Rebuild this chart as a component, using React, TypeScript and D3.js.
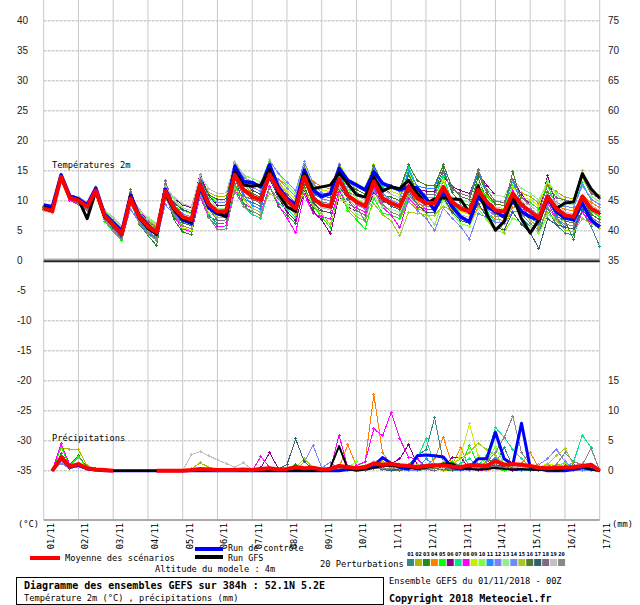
import React from 'react';
import * as d3 from 'd3';

// ---------- categories / ticks ----------
const DATES = ['01/11','02/11','03/11','04/11','05/11','06/11','07/11','08/11','09/11','10/11','11/11','12/11','13/11','14/11','15/11','16/11','17/11'];
const LEFT_TICKS = [40,35,30,25,20,15,10,5,0,-5,-10,-15,-20,-25,-30,-35];
const RIGHT_TICKS = [40,35,30,25,20,15,10,5,0,-20,-25,-30,-35];
const MEMBER_IDS = ['01','02','03','04','05','06','07','08','09','10','11','12','13','14','15','16','17','18','19','20'];
const MEMBER_COLORS = ['#2e8b8b','#b5b500','#1e8c1e','#ff8000','#00ff00','#8b008b','#00e88a','#ff00ff','#c0f000','#80ff40','#1e90ff','#8080ff','#90ee90','#6a8cff','#a8c820','#4f7a2f','#2f6070','#806a80','#c0c0c0','#888888'];

// ---------- temperature 2m (°C), 6-hourly t0..t64 ----------
const T_MEAN = [8.7,8.3,14.0,10.5, 10.0,9.0,11.7,7.5, 6.0,4.5,10.4,7.3, 5.7,4.7,11.6,8.8, 7.3,6.8,12.7,9.4, 8.2,8.3,14.3,11.8, 10.7,10.1,14.4,11.8, 10.1,8.7,14.0,10.4, 9.3,9.0,13.6,10.9, 9.8,9.1,13.2,10.4, 9.6,9.0,12.3,10.4, 9.6,9.6,12.3,9.8, 8.7,8.2,11.8,9.8, 8.4,8.2,11.2,9.3, 8.2,7.1,10.7,8.7, 7.6,7.3,10.7,8.7, 7.9];
const T_CTRL = [9.3,9.0,14.3,10.8, 10.3,9.3,12.1,7.7, 6.3,4.9,10.9,7.5, 5.9,4.5,11.9,8.6, 6.8,6.2,12.3,8.8, 7.8,7.5,15.7,13.2, 13.0,12.3,16.0,12.3, 10.4,9.3,15.1,11.8, 10.7,11.2,15.4,13.4, 12.6,11.8,14.8,12.9, 12.3,11.8,12.3,12.1, 10.4,8.4,11.5,9.0, 7.3,6.5,10.7,9.0, 8.2,7.3,10.1,8.2, 7.3,6.8,10.7,8.2, 7.1,6.8,9.6,6.8, 5.6];
const T_GFS = [8.9,8.5,14.0,10.4, 10.2,7.0,11.6,7.3, 6.0,4.4,10.6,7.1, 5.4,4.4,11.2,8.5, 7.0,6.5,12.8,9.6, 8.0,7.3,14.8,12.6, 12.4,12.6,15.2,11.2, 9.0,8.2,14.5,12.0, 12.3,12.6,14.6,12.9, 11.0,10.6,13.9,11.6, 12.3,12.0,13.4,11.2, 9.5,10.3,10.5,10.3, 10.2,8.0,12.5,7.8, 5.1,6.5,10.8,7.0, 4.6,6.8,10.3,8.7, 9.6,9.8,14.5,12.0, 10.4];
const T_P01 = [9.0,8.6,14.3,10.8, 10.2,9.2,11.9,7.4, 5.5,4.0,10.4,6.6, 4.7,3.7,11.1,7.6, 5.8,5.3,11.7,7.7, 6.2,6.3,12.8,10.3, 9.7,9.1,13.9,11.6, 10.6,9.2,15.0,11.2, 10.3,10.0,15.1,12.4, 11.8,11.1,15.7,12.2, 11.1,10.5,14.3,11.4, 10.1,10.1,13.3,9.6, 7.7,7.2,11.3,8.3, 6.4,6.2,9.7,7.1, 5.7,4.6,8.7,6.0, 4.6,4.3,8.2,5.7, 2.4];
const T_P02 = [8.5,8.1,13.8,10.7, 10.5,9.5,12.2,8.2, 6.8,5.3,10.7,8.2, 6.7,5.7,12.1,10.1, 8.8,8.3,13.7,11.4, 10.7,10.8,16.3,14.1, 12.7,12.1,15.9,13.3, 11.1,9.7,14.5,10.9, 9.3,9.0,13.1,10.4, 8.8,8.1,11.7,8.9, 7.6,7.0,9.8,8.7, 8.1,8.1,10.3,9.3, 9.2,8.7,11.8,10.8, 9.9,9.7,12.2,11.3, 10.7,9.6,12.7,11.5, 10.6,10.3,15.0,11.7, 10.9];
const T_P03 = [8.7,8.3,14.0,10.3, 9.5,8.5,11.2,6.8, 5.0,3.5,10.4,6.1, 4.2,2.5,11.1,6.8, 4.8,4.3,11.2,7.4, 6.7,6.8,13.8,9.6, 7.7,7.1,12.4,9.1, 7.6,6.2,12.5,8.7, 8.3,8.0,13.6,10.4, 9.8,9.1,14.2,10.9, 10.6,10.0,14.3,11.9, 11.6,11.6,15.3,11.3, 9.7,9.2,13.8,10.1, 7.9,7.7,11.7,8.3, 6.7,5.6,10.2,7.5, 6.6,3.5,10.7,7.7, 6.9];
const T_P04 = [9.1,8.7,14.4,11.0, 10.6,9.6,12.3,8.3, 7.0,5.5,10.6,8.1, 6.2,5.2,11.3,9.1, 7.3,6.8,11.9,8.9, 7.2,7.3,12.5,11.8, 11.7,11.1,14.6,13.6, 12.6,11.2,15.7,13.2, 12.3,12.0,15.8,13.4, 11.8,11.1,14.4,11.4, 9.6,9.0,11.5,9.9, 8.6,8.6,10.5,8.3, 6.7,6.2,9.0,8.1, 6.9,6.7,8.9,8.6, 8.2,7.1,9.9,9.2, 8.6,8.3,10.9,9.7, 8.9];
const T_P05 = [8.4,8.0,13.7,10.1, 9.4,8.4,11.1,6.6, 4.8,3.3,9.5,6.5, 5.2,4.2,11.4,9.1, 8.3,7.8,14.0,10.7, 9.7,9.8,16.1,12.8, 11.2,10.6,15.2,11.8, 9.6,8.2,13.8,9.2, 7.3,5.5,11.9,8.4, 6.8,5.3,10.5,7.9, 7.6,7.0,10.6,8.9, 8.6,8.6,11.6,9.6, 9.2,8.7,12.6,10.6, 9.4,9.2,12.5,10.6, 9.7,8.6,12.5,9.2, 7.1,6.8,10.5,8.2, 7.4];
const T_P06 = [8.8,8.4,14.1,10.7, 10.3,9.3,12.0,7.9, 6.5,5.0,10.6,8.2, 6.9,5.9,12.5,10.4, 9.3,8.8,14.4,10.9, 9.2,9.3,15.0,12.1, 10.2,9.6,13.6,10.6, 8.1,6.7,11.7,8.2, 6.8,4.5,10.8,8.9, 8.3,7.6,11.4,9.9, 10.1,9.5,12.5,11.7, 11.6,11.6,14.0,12.3, 11.7,11.2,14.5,12.6, 10.9,10.7,13.4,11.1, 9.2,8.1,14.2,9.2, 7.6,7.3,10.4,8.7, 7.9];
const T_P07 = [8.3,7.9,13.6,10.2, 9.7,8.7,11.4,7.5, 6.2,4.7,11.4,7.8, 6.5,5.5,13.2,9.0, 6.8,6.3,13.0,7.9, 5.7,5.8,12.6,9.1, 7.7,7.1,12.2,9.6, 8.6,7.2,13.3,9.9, 9.8,9.5,14.9,11.9, 11.3,10.6,15.5,12.4, 12.1,11.5,15.6,12.2, 10.6,10.6,14.1,9.8, 7.7,7.2,11.6,8.3, 6.4,6.2,10.0,7.8, 7.2,6.1,10.5,9.0, 9.1,8.8,13.0,10.2, 9.4];
const T_P08 = [8.5,8.1,13.8,10.1, 9.3,8.3,11.0,6.8, 5.2,3.7,9.6,6.5, 4.9,3.9,10.8,7.4, 5.3,4.8,10.7,7.2, 5.7,5.8,11.8,9.6, 8.7,8.1,12.4,9.3, 7.1,4.7,11.0,7.9, 7.3,7.0,11.6,9.4, 8.8,8.1,12.2,8.9, 7.6,5.5,10.3,8.9, 8.6,8.6,11.3,9.3, 8.7,8.2,11.8,10.1, 8.9,8.7,11.7,9.1, 7.2,6.1,9.7,7.0, 5.1,4.8,8.2,6.2, 5.4];
const T_P09 = [8.7,8.3,14.0,10.7, 10.4,9.4,12.1,8.0, 6.6,5.1,11.6,7.5, 5.4,4.4,11.9,7.8, 5.5,5.0,11.5,8.0, 7.2,7.3,13.9,11.6, 11.2,10.6,15.5,12.8, 11.6,10.2,16.1,12.4, 11.8,11.5,16.2,13.7, 12.8,12.1,16.0,12.9, 11.6,11.0,14.9,11.7, 10.1,10.1,13.4,9.8, 8.2,7.7,11.9,9.8, 8.9,8.7,12.3,10.6, 10.2,9.1,13.3,11.0, 10.1,9.8,13.8,11.2, 10.4];
const T_P10 = [8.6,8.2,13.9,10.3, 9.6,8.6,11.3,7.5, 6.3,4.8,10.1,8.2, 7.2,6.2,12.5,10.1, 8.3,7.8,13.1,10.9, 10.2,10.3,15.7,14.3, 13.7,13.1,16.8,14.6, 12.6,11.2,15.9,12.4, 10.8,10.5,14.5,11.9, 10.3,9.6,13.1,10.4, 9.1,8.5,11.2,9.4, 8.1,6.0,10.2,7.8, 6.2,5.7,8.7,6.8, 4.9,4.7,7.1,6.3, 5.7,4.6,7.6,7.0, 6.6,6.3,9.1,7.7, 6.9];
const T_P11 = [9.0,8.6,14.3,10.7, 10.0,9.0,11.7,7.4, 5.7,4.2,11.3,7.2, 5.7,4.7,12.8,9.1, 7.8,7.3,14.4,9.7, 8.2,8.3,15.5,11.1, 9.2,8.6,14.1,10.6, 9.1,7.7,14.2,9.9, 9.3,9.0,14.8,11.4, 10.8,10.1,15.4,11.7, 11.1,10.5,15.0,12.4, 12.1,12.1,16.0,12.1, 10.7,10.2,15.0,11.3, 9.4,9.2,13.4,9.3, 7.2,6.1,10.9,7.2, 5.6,5.3,9.9,6.7, 5.9];
const T_P12 = [8.9,8.5,14.2,10.5, 9.8,8.8,11.5,7.0, 5.2,3.7,8.6,6.3, 4.4,3.4,9.3,7.7, 6.3,5.8,10.7,9.2, 8.7,8.8,13.8,12.8, 12.2,11.6,14.9,13.6, 12.1,10.7,15.0,11.9, 10.3,10.0,13.6,11.2, 9.3,8.6,11.7,9.4, 8.1,7.5,9.8,8.4, 7.1,5.0,8.8,7.1, 5.7,3.6,7.8,7.3, 6.4,6.2,8.2,8.1, 7.7,6.6,9.2,8.7, 8.1,7.8,10.2,9.2, 8.4];
const T_P13 = [8.9,8.5,14.2,10.9, 10.5,9.5,12.2,8.3, 7.0,5.5,11.0,8.4, 6.9,5.9,12.4,10.2, 8.8,8.3,13.8,10.4, 8.7,8.8,14.4,12.6, 11.7,11.1,15.0,12.3, 10.1,8.7,13.6,9.9, 8.3,8.0,12.2,9.4, 7.8,7.1,10.8,8.9, 8.6,8.0,10.9,9.9, 9.6,9.6,11.9,10.6, 10.2,9.7,12.9,11.8, 10.9,10.7,13.3,12.1, 11.2,10.1,13.3,11.2, 9.6,9.3,12.3,10.7, 9.9];
const T_P14 = [8.4,8.0,13.7,10.4, 10.1,9.1,11.8,7.4, 5.6,4.1,10.4,6.7, 4.9,3.9,11.2,8.7, 7.8,7.3,13.6,10.4, 9.7,9.8,16.2,13.8, 13.2,12.6,16.6,14.6, 13.1,11.7,16.5,12.9, 11.3,11.0,16.0,12.4, 10.8,10.1,14.6,11.2, 10.1,9.5,13.2,10.4, 9.1,9.1,12.2,8.8, 7.2,6.7,10.7,8.6, 7.4,7.2,10.6,9.1, 8.7,7.6,11.6,9.7, 9.1,8.8,12.6,10.2, 9.4];
const T_P15 = [8.7,8.3,14.0,10.4, 9.8,8.8,11.5,7.6, 6.4,4.9,9.6,7.8, 6.3,5.3,11.0,8.9, 6.8,6.3,11.0,8.7, 7.2,7.3,12.1,10.3, 8.7,8.1,11.2,10.3, 9.1,7.7,11.8,9.2, 7.8,6.0,10.9,8.9, 7.3,6.6,9.5,7.7, 6.6,4.2,8.1,7.9, 7.6,7.6,9.1,8.3, 7.7,7.2,9.6,9.3, 8.4,4.5,10.0,8.6, 6.7,5.6,8.0,6.7, 5.1,4.8,7.0,6.2, 5.4];
const T_P16 = [9.1,8.7,14.4,10.9, 10.4,9.4,12.1,8.1, 6.8,5.3,11.9,7.5, 5.2,4.2,11.8,8.1, 6.3,5.8,12.4,8.9, 8.2,8.3,15.0,12.1, 11.2,10.6,15.6,12.1, 10.1,8.7,14.7,11.2, 10.8,10.5,15.8,12.7, 11.8,11.1,15.9,12.9, 12.6,12.0,16.0,13.4, 12.6,12.6,16.0,12.3, 10.7,10.2,14.5,11.3, 9.4,9.2,14.8,9.8, 8.2,7.1,11.4,8.2, 6.6,6.3,10.4,7.7, 6.9];
const T_P17 = [8.5,8.1,13.8,10.6, 10.3,9.3,12.0,7.4, 5.4,3.9,9.6,7.2, 6.1,5.1,11.8,9.6, 8.5,8.0,13.7,11.0, 10.2,10.3,16.1,13.3, 11.7,11.1,15.2,12.1, 9.6,8.2,13.3,9.7, 8.3,8.0,12.4,10.4, 9.8,9.1,13.0,10.2, 9.1,8.5,11.6,9.4, 8.1,8.1,10.6,8.1, 6.7,6.2,9.6,7.3, 5.4,5.2,8.0,6.1, 4.7,2.0,7.0,6.0, 5.6,5.3,8.5,6.7, 5.9];
const T_P18 = [8.8,8.4,14.1,10.3, 9.4,8.4,11.1,7.2, 6.0,4.5,11.3,7.7, 6.5,5.5,13.3,9.2, 7.3,6.8,13.6,8.7, 6.7,6.8,13.7,10.8, 10.2,9.6,14.8,12.1, 11.1,9.7,15.9,10.9, 9.3,9.0,14.5,10.2, 8.3,7.6,12.6,9.7, 9.6,9.0,13.2,11.2, 11.1,11.1,14.7,11.8, 11.2,10.7,15.2,11.8, 9.9,9.7,13.6,10.6, 9.2,8.1,12.6,10.5, 10.1,9.8,14.1,11.2, 10.4];
const T_P19 = [8.3,7.9,13.6,10.7, 10.7,9.7,12.4,8.5, 7.2,5.7,10.9,8.6, 7.1,6.1,12.3,10.6, 9.5,9.0,14.2,12.0, 11.2,11.3,16.6,14.3, 12.7,12.1,15.7,13.1, 10.6,9.2,13.8,10.4, 8.8,8.5,12.4,11.2, 10.8,10.1,13.5,11.7, 11.1,10.5,13.1,11.2, 9.6,9.6,11.6,9.3, 7.7,7.2,10.1,9.3, 8.4,8.2,10.5,9.8, 9.2,8.1,11.0,9.5, 8.1,7.8,10.5,9.2, 8.4];
const T_P20 = [9.0,8.6,14.3,10.5, 9.6,8.6,11.3,6.8, 5.0,3.5,9.6,6.2, 4.5,3.5,10.6,7.5, 5.8,5.3,11.4,7.2, 5.2,5.3,11.5,9.1, 8.2,7.6,12.1,10.3, 9.6,8.2,13.7,10.4, 9.8,9.5,14.3,10.9, 9.3,6.5,12.9,9.4, 8.1,7.5,11.0,9.4, 9.1,9.1,12.0,9.8, 9.2,8.7,12.5,9.6, 7.4,7.2,10.4,7.8, 6.2,5.1,8.9,7.0, 6.1,5.8,9.4,7.2, 6.4];
const T_PERTS = [T_P01,T_P02,T_P03,T_P04,T_P05,T_P06,T_P07,T_P08,T_P09,T_P10,T_P11,T_P12,T_P13,T_P14,T_P15,T_P16,T_P17,T_P18,T_P19,T_P20];

// ---------- precipitation (mm / 6h), t1..t64 ----------
const P_MEAN = [0,2.2,0.7,1.1,0.4,0.2,0.1,0, null,null,null,null,0,0,0,0, 0.1,0.3,0.2,0.1,0.1,0.1,0.2,0.1, 0.3,0.4,0.2,0.3,0.6,0.4,0.5,0.2, 0.3,0.8,0.6,0.4,0.6,1.2,1.0,1.1, 0.9,0.8,0.6,0.8,0.9,0.9,0.7,0.6, 0.9,0.9,0.8,1.6,1.0,1.1,1.0,0.8, 0.5,0.4,0.5,0.5,0.6,0.8,1.0,0];
const P_CTRL = [0,2.0,0.6,0.9,0.3,0.1,0,0, 0,0,0,0,0,0,0,0, 0,0,0,0,0,0,0,0, 0,0,0,0,0,0,0,0, 0,0,0.2,0.3,0.5,0.8,2.2,1.2, 0.5,0.3,2.5,2.6,2.5,2.3,0.5,0.3, 0.5,2.0,2.0,6.4,2.0,1.0,7.9,0.5, 0.3,0,0,0,0.2,0.5,0.3,0];
const P_GFS = [0,2.1,0.7,1.0,0.3,0.1,0,0, 0,0,0,0,0,0,0,0, 0,0,0,0,0,0,0,0, 0,0,0,0,0,0,0,0, 0.5,4.1,0.3,0,0.2,0.5,0.8,0.8, 0.8,0.5,0.3,0.5,0.8,1.2,1.2,0.5, 0.3,0.2,0.3,0.5,0.3,0.2,0.3,0.2, 0.1,0.2,0,0.3,0.4,0.6,0.2,0];
const P_P01 = [0,2.0,0.6,1.0,0.3,0.1,0,0, 0,0,0,0,0,0,0,0, 0,0,0,0,0,0,0,0, 0,0.2,0,0,0.3,0,0,0, 0,0,0.2,0,0,0.5,0.3,0, 0.4,1.0,2.5,3.5,8.8,1.5,0.5,0, 0.3,0.8,0.4,1.2,3.9,0.6,0.2,0, 0,0,0.3,0.5,0,0.4,0.2,0];
const P_P02 = [0,3.8,3.6,3.5,0.8,0.3,0.1,0, 0,0,0,0,0,0,0,0, 0.3,1.3,0.6,0.2,0,0,0,0, 0,0.3,0,0.5,0.8,0.2,0,0, 0,0,0.5,0.3,0,0.6,1.5,0.5, 0.3,0,0.4,0.8,0.5,0,0.3,0, 1.0,0.5,0,0.6,0.8,0,0.3,0, 0,0.5,1.0,1.2,0.6,0,0.5,0];
const P_P03 = [0,2.8,1.0,2.5,0.6,0.3,0.1,0, 0,0,0,0,0,0,0,0, 0,0,0,0,0,0,0,0, 0,0,0,0.2,1.0,0.3,0,0, 0,0.3,0,0,0.4,0.8,0.4,0.3, 1.0,0.5,0,0.3,0.6,0.2,0,0.4, 0.5,0.3,1.5,2.0,0.8,0.3,0,0, 0,0,0.2,0,0.5,0.8,0.3,0];
const P_P04 = [0,1.8,0.5,0.8,0.2,0,0,0, 0,0,0,0,0,0,0,0, 0,0,0,0,0,0,0,0, 0,0,0.2,0,0,0,0,0, 0.3,0.5,4.3,0.8,1.5,12.7,3.0,1.0, 0.6,0.3,0.5,0.8,2.0,5.6,1.0,3.9, 0.5,0.3,0,0.6,0.4,0.5,1.2,3.0, 0.5,0,0,0.3,0,0,0.2,0];
const P_P05 = [0,4.0,0.8,2.3,0.5,0.2,0,0, 0,0,0,0,0,0,0,0, 0,0,0,0,0,0,0,0, 0,0,0,0,0,0.2,0,0, 0,0,0,0.3,0,0.5,1.0,0.6, 0.3,0,0.2,0.5,0,0.4,1.5,0.8, 4.2,1.0,0.5,0.3,0,0.4,0,0.2, 0,0.3,0,0,0.2,0.5,0,0];
const P_P06 = [0,2.4,0.7,1.2,0.4,0.2,0,0, 0,0,0,0,0,0,0,0, 0,0.2,0,0,0,0,0,0, 0.5,3.0,0.4,0.3,0.2,0,0,0, 0,0,0.2,0,0,0.6,0.8,1.2, 2.0,4.4,1.0,0.5,0.3,0.5,2.2,2.2, 0.3,0,0.2,0.5,0.4,0,0,0.3, 0,0,0,0.4,0.3,0,0.6,0];
const P_P07 = [0,2.1,0.6,1.3,0.4,0.1,0,0, 0,0,0,0,0,0,0,0, 0,0,0,0,0,0,0,0, 0,0,0,0,0.4,0,0,0, 0,0.3,0.8,0.2,0,1.0,0.5,0.3, 0.5,0.8,2.0,5.3,1.0,0.3,0.5,1.2, 2.0,0.8,2.5,7.2,5.6,3.5,2.0,0.6, 0.3,0,0.5,0.4,1.5,5.9,3.9,0];
const P_P08 = [0,4.5,1.0,1.2,0.5,0.2,0,0, 0,0,0,0,0,0,0,0, 0,0,0,0,0,0,0,0, 2.4,0.5,0,0,0,0,0,0, 0.3,5.9,0.5,0.8,1.5,7.0,5.8,9.7, 5.3,2.2,2.0,0.5,0.3,0.6,0.3,0, 0.4,0,0.3,0.5,0.8,0.3,0,0.2, 0,0.3,0,0,0.4,0,0.5,0];
const P_P09 = [0,2.6,0.7,1.4,0.3,0.2,0,0, 0,0,0,0,0,0,0,0, 0,0,0,0,0,0,0,0, 0,0.4,0.3,0,0.2,0,0,0, 0,0.2,0.5,0.3,0,0.8,1.3,0.5, 0.4,0.6,0.3,1.0,0.5,1.5,0.8,2.5, 7.8,2.5,1.0,1.5,0.8,0.3,0.5,0.8, 0.5,1.2,0.8,1.0,0.6,0.3,0.2,0];
const P_P10 = [0,1.5,0.5,0.9,0.2,0.1,0,0, 0,0,0,0,0,0,0,0, 0,0,0,0,0,0,0,0, 0,0,0,0,0.3,0.2,0,0, 0,0.5,0.6,1.5,0.5,0.3,2.0,1.0, 0.3,0.5,0.8,0.2,0.4,1.0,0.5,0.3, 1.0,2.0,1.5,4.0,1.0,0.5,0.3,0.2, 0,0,0.5,1.5,0.3,0,0.3,0];
const P_P11 = [0,2.5,0.8,0.9,0.3,0.2,0,0, 0,0,0,0,0,0,0,0, 0,0,0,0,0,0,0,0, 0,0,0,0,0,0,0,0, 0.2,0,0.3,0,0.5,0.6,0.3,0.2, 0,0.5,0.3,2.0,0.8,0.5,0,0, 0.3,0.4,1.0,2.2,0.5,0.3,0,0, 0.2,0,0,0,0.3,0.5,0,0];
const P_P12 = [0,1.2,0.4,0.6,0.2,0.1,0,0, 0,0,0,0,0,0,0,0, 0,0,0,0,0,0,0,0, 0,0,0,0,0,1.5,4.2,0.5, 1.4,0.2,0,0.3,0,0.5,0.3,0, 0.2,0,0,0.5,0.3,0.8,0.5,0.3, 0,0.5,0.2,0.6,0.3,0.5,0.8,0.3, 1.0,2.0,3.6,1.5,0.5,0.3,0.2,0];
const P_P13 = [0,1.9,0.5,0.8,0.3,0.1,0,0, 0,0,0,0,0,0,0,0, 0,0,0,0,0,0,0,0, 0,0,0,0.3,0,0,0.2,0, 0,0,0.4,0.2,0.3,0.6,0.8,1.2, 0.5,0.3,0.2,0.4,0.8,0.5,1.0,0.4, 0.5,0.4,0.3,0.8,1.2,0.6,0.3,0.5, 0.2,0.4,0.3,0,0.3,0.5,0.4,0];
const P_P14 = [0,1.5,0.3,0.7,0.2,0.1,0,0, 0,0,0,0,0,0,0,0, 0,0,0,0,0,0,0,0, 0,0,0.3,0,0,0,0,0, 0,0,0,0.4,0.2,0.3,0.5,0.3, 0.3,0.2,0.5,0.3,0.5,0.3,0.2,0.5, 0.4,0.6,0.3,1.0,0.5,0.3,0.6,0.2, 0.5,1.0,0.5,0.3,0.2,0,0,0];
const P_P15 = [0,2.2,0.6,1.0,0.3,0.1,0,0, 0,0,0,0,0,0,0,0, 0,0,0,0,0,0,0,0, 0,0,0,0,0.5,2.0,0.5,0, 0,0.5,0.3,0,0.8,1.5,0.5,0.3, 0.5,0.3,1.0,0.5,0.3,0.8,1.0,2.0, 3.0,4.6,3.5,2.5,1.0,0.5,0.3,0.8, 0.5,1.0,2.5,3.7,1.0,0.3,0.5,0];
const P_P16 = [0,2.3,0.6,1.1,0.4,0.2,0,0, 0,0,0,0,0,0,0,0, 0,0,0,0,0,0,0,0, 0,0,0,0,0,0,0,0, 0,0.3,0.2,0,0.5,0.3,0.5,0.2, 0,0.3,0.5,0.2,0.4,0.3,0,0.3, 0.2,0.5,0.8,0.5,1.0,0.4,0.2,0, 0,0.3,0.5,0.3,0.4,0.8,0.3,0];
const P_P17 = [0,1.7,0.4,0.9,0.3,0.1,0,0, 0,0,0,0,0,0,0,0, 0,0,0,0,0,0,0,0, 0,0,0.3,1.0,5.3,1.5,0.3,0, 0,0.3,0.2,0,0.3,0.5,0.2,0, 0.3,0.5,0.2,0.4,0.8,0.3,0.5,0.2, 0.5,0.2,0.6,1.0,0.6,0.3,0.5,0, 0.3,0.2,0.6,0.8,0.3,0.5,0.2,0];
const P_P18 = [0,2.0,0.5,0.8,0.3,0.1,0,0, 0,0,0,0,0,0,0,0, 0,0,0,0,0,0,0,0, 0,0,0,0,0,0,0,0, 0,0,0.2,0.3,0,0.4,0.3,0.5, 0.6,0.3,0.5,0.2,0,0.5,0.3,0.4, 0.3,0.5,0.4,0.8,0.5,0.4,0.2,0.3, 0.2,0.5,0.3,0.4,1.0,0.5,0.2,0];
const P_P19 = [0,1.6,0.5,0.7,0.2,0.1,0,0, 0,0,0,0,0,0,0,0, 2.7,3.2,2.5,1.8,1.2,0.6,1.3,0.2, 0,0.3,0,0,0,0,0.2,0, 0,0.3,0.5,0.3,0.2,1.5,2.0,0.5, 0.3,0.5,0.8,0.3,0.5,0.4,0.6,0.8, 0.5,1.0,0.6,1.2,2.0,0.8,0.5,0.3, 0.8,0.4,0.5,0.3,0.8,1.2,0.3,0];
const P_P20 = [0,2.2,0.6,1.0,0.4,0.1,0,0, 0,0,0,0,0,0,0,0, 0,0,0,0,0,0,0,0, 0,0,0,0,0.3,0,0,0, 0,0.4,0.3,0,0.5,0.8,0.3,0.4, 0.5,1.0,0.6,0.3,0.5,1.2,0.5,0.2, 0.3,0.5,1.5,3.0,5.5,9.1,3.0,1.0, 0.5,0.3,1.0,3.0,1.5,1.0,3.7,0];
const P_PERTS = [P_P01,P_P02,P_P03,P_P04,P_P05,P_P06,P_P07,P_P08,P_P09,P_P10,P_P11,P_P12,P_P13,P_P14,P_P15,P_P16,P_P17,P_P18,P_P19,P_P20];

const MONO = '"DejaVu Sans Mono", "Liberation Mono", monospace';
const SANS = '"Liberation Sans", Arial, sans-serif';

export default function App() {
  const W = 640, H = 605;
  const x = d3.scaleLinear().domain([0, 64]).range([43.7, 599.7]);
  const y = d3.scaleLinear().domain([-35, 40]).range([470.7, 20.7]);
  const PRECIP_BASE = -35;
  const xDay = (i: number) => x(i * 4);
  const bottomY = 520;

  const tLine = d3.line<number | null>()
    .defined(v => v != null)
    .x((_, i) => x(i))
    .y(v => y(v as number));
  const pLine = d3.line<number | null>()
    .defined(v => v != null)
    .x((_, i) => x(i + 1))
    .y(v => y(PRECIP_BASE + (v as number)));

  const markers = (vals: (number | null)[], offset: number, base: number) =>
    vals.map((v, i) => {
      if (v == null) return '';
      const px = x(i + offset), py = y(base + v);
      return `M${(px - 1.5).toFixed(1)},${py.toFixed(1)}h3M${px.toFixed(1)},${(py - 1.5).toFixed(1)}v3`;
    }).join('');

  return (
    <svg width={W} height={H} viewBox={`0 0 ${W} ${H}`}
      style={{ position: 'absolute', left: 0, top: 0, background: '#fff' }}>
      <rect x={0} y={0} width={W} height={H} fill="#fff" />
      {/* vertical grid */}
      {DATES.map((d, i) => (
        <line key={'v' + d} x1={xDay(i)} x2={xDay(i)} y1={0} y2={bottomY}
          stroke="#c8c8c8" strokeWidth={1} />
      ))}
      {/* horizontal grid */}
      {LEFT_TICKS.filter(v => v !== 0).map(v => (
        <line key={'h' + v} x1={x(0)} x2={x(64)} y1={y(v)} y2={y(v)}
          stroke="#cfcfcf" strokeWidth={1.5} strokeDasharray="3,1" />
      ))}
      {/* zero line */}
      <line x1={x(0)} x2={x(64)} y1={y(0) - 1.5} y2={y(0) - 1.5} stroke="#888" strokeWidth={1} />
      <line x1={x(0)} x2={x(64)} y1={y(0) + 0.5} y2={y(0) + 0.5} stroke="#222" strokeWidth={2} />
      {/* bottom axis */}
      <line x1={x(0)} x2={x(64)} y1={bottomY} y2={bottomY} stroke="#aaa" strokeWidth={2} />

      {/* left labels */}
      {LEFT_TICKS.map(v => (
        <text key={'l' + v} x={17} y={y(v) + 3.5} fontFamily={SANS} fontSize={10} fill="#222">{v}</text>
      ))}
      {RIGHT_TICKS.map(v => (
        <text key={'r' + v} x={608} y={y(v) + 3.5} fontFamily={SANS} fontSize={10} fill="#222">{v + 35}</text>
      ))}

      {/* date labels */}
      {DATES.map((d, i) => (
        <text key={'d' + d} transform={`translate(${xDay(i) + 10},${bottomY + 3}) rotate(-90)`}
          textAnchor="end" fontFamily={MONO} fontSize={8.7} fill="#000">{d}</text>
      ))}
      <text x={18} y={527} fontFamily={MONO} fontSize={8.7}>(°C)</text>
      <text x={612} y={527} fontFamily={MONO} fontSize={8.7}>(mm)</text>

      <text x={52} y={168} fontFamily={MONO} fontSize={8.7}>Températures 2m</text>
      <text x={52} y={441} fontFamily={MONO} fontSize={8.7}>Précipitations</text>

      {/* perturbations - temperature */}
      {T_PERTS.map((s, k) => (
        <g key={'tp' + k} shapeRendering="crispEdges">
          <path d={tLine(s) || ''} fill="none" stroke={MEMBER_COLORS[k]} strokeWidth={1} />
          <path d={markers(s, 0, 0)} fill="none" stroke={MEMBER_COLORS[k]} strokeWidth={1} />
        </g>
      ))}
      {/* perturbations - precipitation */}
      {P_PERTS.map((s, k) => (
        <g key={'pp' + k} shapeRendering="crispEdges">
          <path d={pLine(s) || ''} fill="none" stroke={MEMBER_COLORS[k]} strokeWidth={1} />
          <path d={markers(s, 1, PRECIP_BASE)} fill="none" stroke={MEMBER_COLORS[k]} strokeWidth={1} />
        </g>
      ))}

      {/* control run */}
      <path d={tLine(T_CTRL) || ''} fill="none" stroke="#0000ff" strokeWidth={3.5} strokeLinejoin="round" />
      <path d={pLine(P_CTRL) || ''} fill="none" stroke="#0000ff" strokeWidth={3} strokeLinejoin="round" />
      {/* GFS run */}
      <path d={tLine(T_GFS) || ''} fill="none" stroke="#000" strokeWidth={3} strokeLinejoin="round" />
      <path d={pLine(P_GFS) || ''} fill="none" stroke="#000" strokeWidth={2} strokeLinejoin="round" />
      {/* mean */}
      <path d={tLine(T_MEAN) || ''} fill="none" stroke="#ff0000" strokeWidth={4} strokeLinejoin="round" />
      <path d={pLine(P_MEAN) || ''} fill="none" stroke="#ff0000" strokeWidth={4} strokeLinejoin="round" />

      {/* legend */}
      <rect x={30} y={556} width={30} height={4} fill="#ff0000" />
      <text x={65} y={561} fontFamily={MONO} fontSize={8.7}>Moyenne des scénarios</text>
      <rect x={195} y={547} width={28} height={4} fill="#0000ff" />
      <text x={228} y={551} fontFamily={MONO} fontSize={8.4}>Run de contrôle</text>
      <rect x={195} y={555} width={28} height={4} fill="#000" />
      <text x={228} y={560.5} fontFamily={MONO} fontSize={8.4}>Run GFS</text>
      <text x={155} y={572} fontFamily={MONO} fontSize={8.7}>Altitude du modele : 4m</text>
      <text x={320} y={567} fontFamily={MONO} fontSize={8.7}>20 Perturbations</text>
      {MEMBER_IDS.map((id, k) => (
        <g key={'sw' + id}>
          <text x={407 + k * 7.95 + 3.5} y={556} textAnchor="middle" fontFamily={MONO} fontSize={5.5} fontWeight="bold">{id}</text>
          <rect x={407 + k * 7.95} y={559} width={7} height={7} fill={MEMBER_COLORS[k]} />
        </g>
      ))}

      <rect x={16.5} y={577.5} width={367} height={27} fill="none" stroke="#000" strokeWidth={1} />
      <text x={24} y={589} fontFamily={MONO} fontSize={10} fontWeight="bold">Diagramme des ensembles GEFS sur 384h : 52.1N 5.2E</text>
      <text x={24} y={601} fontFamily={MONO} fontSize={8.7}>Température 2m (°C) , précipitations (mm)</text>
      <text x={389} y={584} fontFamily={MONO} fontSize={8.7}>Ensemble GEFS du 01/11/2018 - 00Z</text>
      <text x={389} y={602} fontFamily={MONO} fontSize={10} fontWeight="bold">Copyright 2018 Meteociel.fr</text>
    </svg>
  );
}
